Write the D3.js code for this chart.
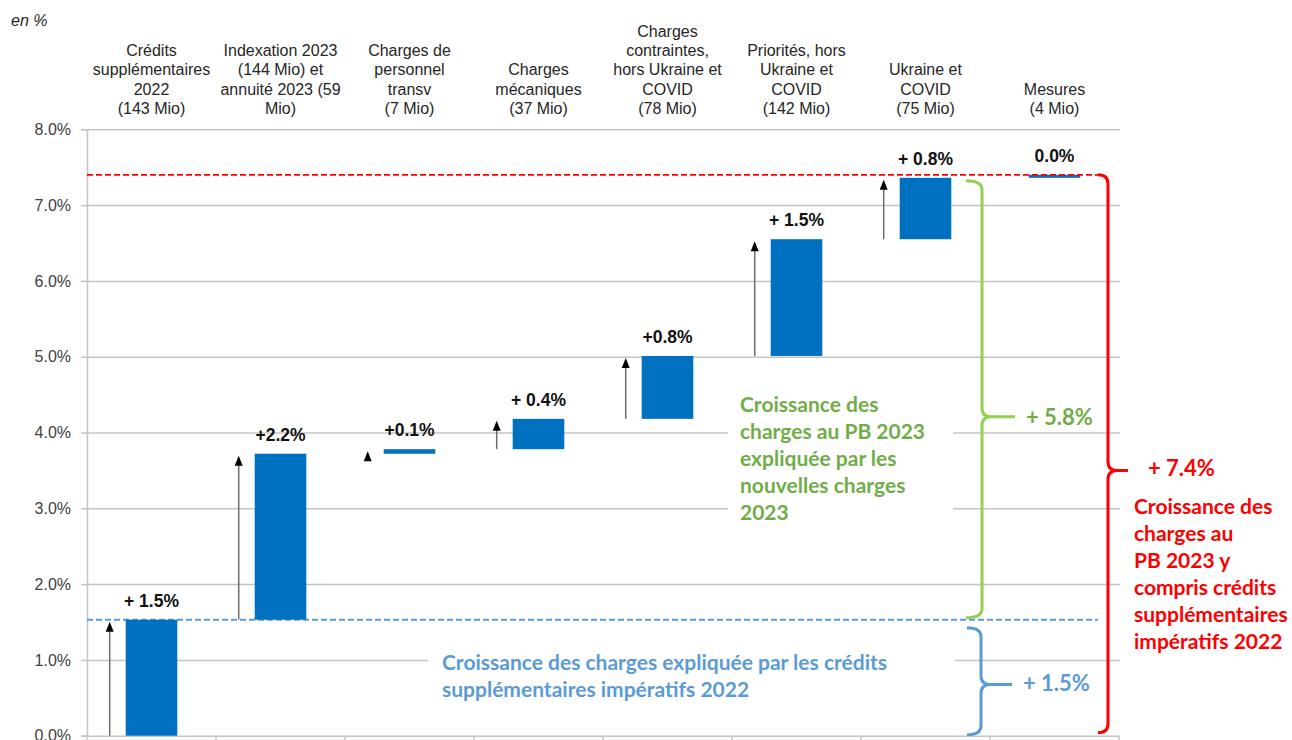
<!DOCTYPE html>
<html>
<head>
<meta charset="utf-8">
<script src="https://cdnjs.cloudflare.com/ajax/libs/d3/7.8.5/d3.min.js"></script>
<style>
	body { margin: 0; background: #fff; }
	svg { display: block; }
</style>
</head>
<body>
<div id="chart"></div>
<script>
// Categories (header lines split on "|")
var categories = [
	"Crédits|supplémentaires|2022|(143 Mio)",
	"Indexation 2023|(144 Mio) et|annuité 2023 (59|Mio)",
	"Charges de|personnel|transv|(7 Mio)",
	"Charges|mécaniques|(37 Mio)",
	"Charges|contraintes,|hors Ukraine et|COVID|(78 Mio)",
	"Priorités, hors|Ukraine et|COVID|(142 Mio)",
	"Ukraine et|COVID|(75 Mio)",
	"Mesures|(4 Mio)"
];

// Growth contribution of each step, in %
var deltas = [1.53, 2.19, 0.06, 0.40, 0.83, 1.54, 0.81, 0.04];

// Labels written above the bars
var valueLabels = ["+ 1.5%", "+2.2%", "+0.1%", "+ 0.4%", "+0.8%", "+ 1.5%", "+ 0.8%", "0.0%"];

// Y axis ticks
var yTicks = [0, 1, 2, 3, 4, 5, 6, 7, 8];

// Brace labels (blue, green, red)
var braceLabels = ["+ 1.5%", "+ 5.8%", "+ 7.4%"];

// Notes
var greenNote = ["Croissance des", "charges au PB 2023", "expliquée par les", "nouvelles charges", "2023"];
var blueNote = ["Croissance des charges expliquée par les crédits", "supplémentaires impératifs 2022"];
var redNote = ["Croissance des", "charges au", "PB 2023 y", "compris crédits", "supplémentaires", "impératifs 2022"];

var W = 1292, H = 740;
var left = 87, right = 1120;

var blue = "#0070C0", lightBlue = "#5B9BD5", green = "#70AD47", braceGreen = "#92D050", red = "#FF0000";
var calibri = "Lato, 'Open Sans', sans-serif";
var arial = "'Liberation Sans', Arial, sans-serif";

// cumulative start / end of every step
var steps = [];
var run = 0;
deltas.forEach(function(d, i) {
	steps.push({ i: i, cat: categories[i], start: run, end: run + d, label: valueLabels[i] });
	run = run + d;
});
var total = run;
var base = deltas[0];

var svg = d3.select("#chart").append("svg")
	.attr("width", W)
	.attr("height", H);

var x = d3.scaleBand()
	.domain(categories)
	.range([left, right - 1])
	.paddingInner(0.6)
	.paddingOuter(0.3);

var y = d3.scaleLinear()
	.domain([0, 8])
	.range([735.7, 129.3]);

// "en %"
svg.append("text")
	.attr("x", 11)
	.attr("y", 26)
	.style("font-family", arial)
	.style("font-style", "italic")
	.style("font-size", "16px")
	.style("fill", "#262626")
	.text("en %");

// Gridlines
svg.append("g")
	.attr("transform", "translate(" + left + ",0)")
	.call(d3.axisLeft(y).tickValues(yTicks).tickSize(-(right - left)).tickFormat(""))
	.call(function(g) {
		g.select(".domain").remove();
		g.selectAll("line").attr("stroke", "#c4c4c4").attr("stroke-width", 1.5);
	});

// Y axis with labels
svg.append("g")
	.attr("transform", "translate(" + left + ",0)")
	.call(d3.axisLeft(y).tickValues(yTicks).tickSize(6).tickPadding(10)
		.tickFormat(function(d) { return d.toFixed(1) + "%"; }))
	.call(function(g) {
		g.select(".domain").attr("stroke", "#c4c4c4").attr("stroke-width", 1.5);
		g.selectAll("line").attr("stroke", "#c4c4c4").attr("stroke-width", 1.5);
		g.selectAll("text")
			.style("font-family", arial)
			.style("font-size", "16px")
			.style("fill", "#404040");
	});

// little ticks between categories on the base line
svg.append("g").selectAll("line")
	.data(d3.range(categories.length + 1))
	.enter().append("line")
	.attr("x1", function(d) { return left + d * x.step(); })
	.attr("x2", function(d) { return left + d * x.step(); })
	.attr("y1", y(0))
	.attr("y2", y(0) + 6)
	.attr("stroke", "#c4c4c4")
	.attr("stroke-width", 1.5);

// Category headers
var heads = svg.append("g").selectAll("text")
	.data(steps)
	.enter().append("text")
	.attr("text-anchor", "middle")
	.style("font-family", arial)
	.style("font-size", "16px")
	.style("fill", "#262626");
heads.each(function(d) {
	var lines = d.cat.split("|");
	var t = d3.select(this);
	lines.forEach(function(l, k) {
		t.append("tspan")
			.attr("x", x(d.cat) + x.bandwidth() / 2)
			.attr("y", 114 - (lines.length - 1 - k) * 19.3)
			.text(l);
	});
});

// White text boxes (they hide the gridlines)
svg.append("rect").attr("x", 728).attr("y", 370).attr("width", 225).attr("height", 180).attr("fill", "#fff");
svg.append("rect").attr("x", 428).attr("y", 632).attr("width", 527).attr("height", 90).attr("fill", "#fff");

// Dashed reference lines
svg.append("line")
	.attr("x1", left).attr("x2", 1098)
	.attr("y1", y(base)).attr("y2", y(base))
	.attr("stroke", lightBlue).attr("stroke-width", 2)
	.attr("stroke-dasharray", "6,3");

// Bars
svg.append("g").selectAll("rect")
	.data(steps)
	.enter().append("rect")
	.attr("x", function(d) { return x(d.cat); })
	.attr("y", function(d) { return y(d.end); })
	.attr("width", x.bandwidth())
	.attr("height", function(d) { return Math.max(y(d.start) - y(d.end), 1); })
	.attr("fill", blue);

svg.append("line")
	.attr("x1", left).attr("x2", 1099)
	.attr("y1", y(total)).attr("y2", y(total))
	.attr("stroke", red).attr("stroke-width", 1.8)
	.attr("stroke-dasharray", "6,3");

// Arrows left of the bars (not for the last one)
var arrows = svg.append("g").selectAll("g")
	.data(steps.slice(0, steps.length - 1))
	.enter().append("g");
arrows.append("line")
	.attr("x1", function(d) { return x(d.cat) - 16; })
	.attr("x2", function(d) { return x(d.cat) - 16; })
	.attr("y1", function(d) { return y(d.start); })
	.attr("y2", function(d) { return y(d.end) + 10; })
	.attr("stroke", "#6d6d6d")
	.attr("stroke-width", 1.5);
arrows.append("path")
	.attr("d", function(d) {
		var ax = x(d.cat) - 16, ty = y(d.end) + 2;
		return "M" + (ax - 4) + "," + (ty + 10) + "L" + (ax + 4) + "," + (ty + 10) + "L" + ax + "," + ty + "Z";
	})
	.attr("fill", "#000");

// Value labels
svg.append("g").selectAll("text")
	.data(steps)
	.enter().append("text")
	.attr("x", function(d) { return x(d.cat) + x.bandwidth() / 2; })
	.attr("y", function(d) { return y(d.end) - 13; })
	.attr("text-anchor", "middle")
	.style("font-family", arial)
	.style("font-weight", "bold")
	.style("font-size", "17.5px")
	.style("fill", "#111")
	.text(function(d) { return d.label; });

// Braces
function brace(x0, yTop, yBot, midRatio, hook, tip, color) {
	var r = 9;
	var yMid = yTop + (yBot - yTop) * midRatio;
	var p = d3.path();
	p.moveTo(x0 - hook, yTop);
	p.quadraticCurveTo(x0, yTop, x0, yTop + r);
	p.lineTo(x0, yMid - r);
	p.quadraticCurveTo(x0, yMid, x0 + r, yMid);
	p.lineTo(x0 + tip, yMid);
	p.moveTo(x0 + r, yMid);
	p.quadraticCurveTo(x0, yMid, x0, yMid + r);
	p.lineTo(x0, yBot - r);
	p.quadraticCurveTo(x0, yBot, x0 - hook, yBot);
	svg.append("path")
		.attr("d", p.toString())
		.attr("fill", "none")
		.attr("stroke", color)
		.attr("stroke-width", 3);
	return yMid;
}

function braceLabel(tx, ty, txt, color) {
	svg.append("text")
		.attr("x", tx)
		.attr("y", ty)
		.style("font-family", calibri)
		.style("font-weight", "bold")
		.style("font-size", "22px")
		.style("fill", color)
		.text(txt);
}

var midB = brace(981, y(base) + 8, y(0) - 1, 0.53, 14, 31, lightBlue);
braceLabel(1023, midB + 7, braceLabels[0], lightBlue);

var midG = brace(982, y(total - deltas[deltas.length - 1]) + 3, y(base) - 2, 0.54, 16, 33, braceGreen);
braceLabel(1026, midG + 8, braceLabels[1], green);

var midR = brace(1108, y(total), y(0) - 3, 0.53, 10, 20, red);
braceLabel(1148, midR + 6, braceLabels[2], red);

// Notes
function note(lines, tx, ty, color) {
	var t = svg.append("text")
		.style("font-family", calibri)
		.style("font-weight", "bold")
		.style("font-size", "21px")
		.style("fill", color);
	lines.forEach(function(l, k) {
		t.append("tspan").attr("x", tx).attr("y", ty + k * 27).text(l);
	});
}

note(greenNote, 740, 412, green);
note(blueNote, 442, 670, lightBlue);
note(redNote, 1134, 514, red);
</script>
</body>
</html>
